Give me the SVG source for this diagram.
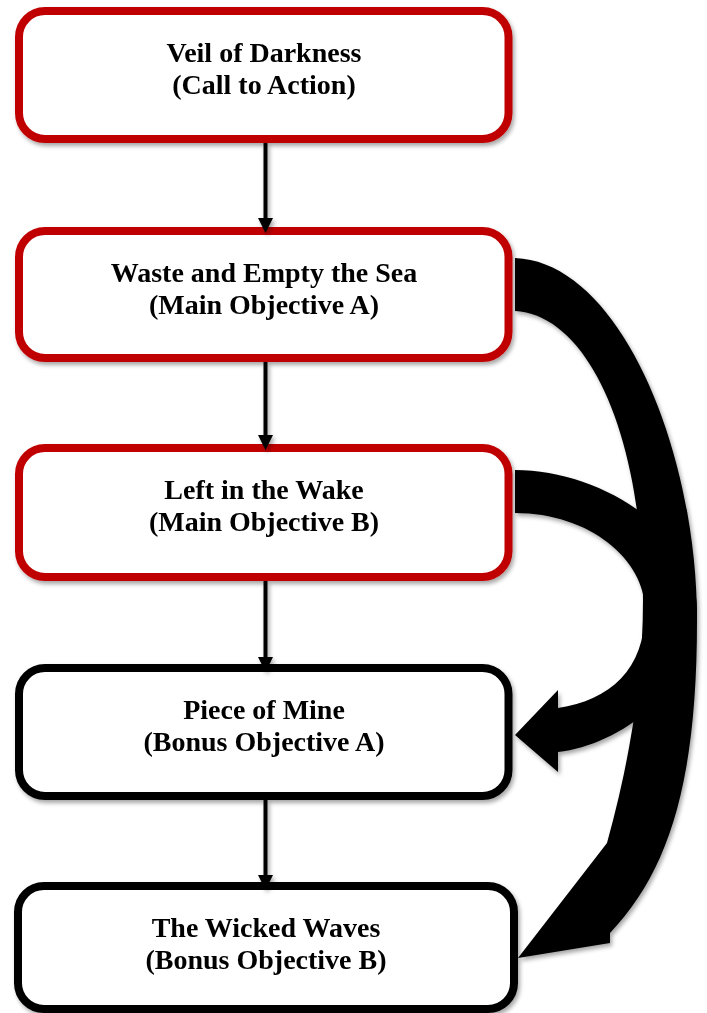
<svg xmlns="http://www.w3.org/2000/svg" width="707" height="1013" viewBox="0 0 707 1013">
  <style>
    .box { fill: #ffffff; stroke-width: 8; }
    .red { stroke: #C00000; }
    .blk { stroke: #000000; }
    .lbl { font-family: "Liberation Serif", "Times New Roman", serif; font-weight: bold; font-size: 28px; fill: #000000; text-anchor: middle; }
    .link { stroke: #000000; stroke-width: 4; fill: none; marker-end: url(#head); }
    .big { fill: #000000; stroke: none; }
  </style>
  <defs>
    <filter id="sh" x="-10%" y="-10%" width="125%" height="130%">
      <feDropShadow dx="2" dy="3" stdDeviation="2" flood-color="#000000" flood-opacity="0.35"/>
    </filter>
    <marker id="head" markerUnits="userSpaceOnUse" viewBox="0 0 15 15" refX="5" refY="7.5" markerWidth="15" markerHeight="15" orient="auto">
      <path d="M0,0 L15,7.5 L0,15 Z" fill="#000000"/>
    </marker>
  </defs>

  <g id="node1" filter="url(#sh)">
    <rect class="box red" x="19" y="11" width="489.5" height="128" rx="26"/>
    <text class="lbl" x="264" y="62">Veil of Darkness</text>
    <text class="lbl" x="264" y="94">(Call to Action)</text>
  </g>
  <g id="node2" filter="url(#sh)">
    <rect class="box red" x="19" y="231" width="489.5" height="127" rx="26"/>
    <text class="lbl" x="264" y="282">Waste and Empty the Sea</text>
    <text class="lbl" x="264" y="314">(Main Objective A)</text>
  </g>
  <g id="node3" filter="url(#sh)">
    <rect class="box red" x="19" y="448" width="489.5" height="129" rx="26"/>
    <text class="lbl" x="264" y="499">Left in the Wake</text>
    <text class="lbl" x="264" y="531">(Main Objective B)</text>
  </g>
  <g id="node4" filter="url(#sh)">
    <rect class="box blk" x="19" y="668" width="489.5" height="128" rx="26"/>
    <text class="lbl" x="264" y="719">Piece of Mine</text>
    <text class="lbl" x="264" y="751">(Bonus Objective A)</text>
  </g>
  <g id="node5" filter="url(#sh)">
    <rect class="box blk" x="18" y="886" width="496" height="123" rx="26"/>
    <text class="lbl" x="266" y="937">The Wicked Waves</text>
    <text class="lbl" x="266" y="969">(Bonus Objective B)</text>
  </g>

  <g id="connectors" filter="url(#sh)">
    <line class="link" x1="265.5" y1="143" x2="265.5" y2="223"/>
    <line class="link" x1="265.5" y1="362" x2="265.5" y2="440"/>
    <line class="link" x1="265.5" y1="581" x2="265.5" y2="662"/>
    <line class="link" x1="265.5" y1="800" x2="265.5" y2="880"/>
    <path id="curve-a" class="big" d="M515,258 C620,262 697,450 697,620 C697,780 670,870 610,933 L610,943 L518,958 L607,843 C630,760 643,680 643,600 C643,440 590,315 515,311 Z"/>
    <path id="curve-b" class="big" d="M515,470 C600,470 697,530 697,610 C697,690 620,745 558,752 L558,772 L515,735 L558,690 L558,708 C610,700 645,670 645,610 C645,560 590,513 515,513 Z"/>
  </g>
</svg>
